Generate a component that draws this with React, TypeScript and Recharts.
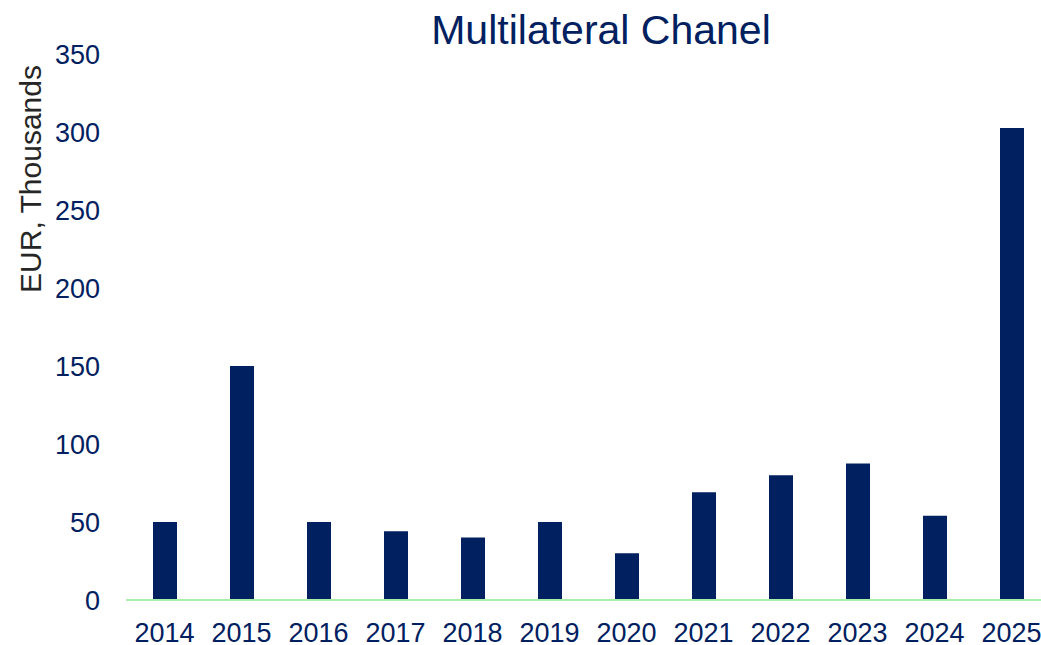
import React from "react";
import { BarChart, Bar, XAxis, YAxis, Label } from "recharts";

const years = ["2014", "2015", "2016", "2017", "2018", "2019", "2020", "2021", "2022", "2023", "2024", "2025"];
const amounts = [50, 150, 50, 44, 40, 50, 30, 69, 80, 87.5, 54, 302.5];
const yTicks = [0, 50, 100, 150, 200, 250, 300, 350];

const data = years.map((year, i) => ({ year, amount: amounts[i] }));

const NAVY = "#002060";
const FONT = "'Liberation Sans', Arial, sans-serif";

function YAxisTitle() {
  // rotated axis title, sits left of the tick labels
  return (
    <text
      x={30}
      y={179}
      transform="rotate(-90, 30, 179)"
      textAnchor="middle"
      dominantBaseline="central"
      fill="#262626"
      fontSize={30}
      fontFamily={FONT}
    >
      EUR, Thousands
    </text>
  );
}

export default function App() {
  return (
    <div
      style={{
        position: "absolute",
        left: 0,
        top: 0,
        width: 1041,
        height: 645,
        overflow: "hidden",
        background: "#fff",
        fontFamily: FONT,
      }}
    >
      <div
        style={{
          position: "absolute",
          left: 601,
          top: 10,
          transform: "translateX(-50%)",
          whiteSpace: "nowrap",
          fontSize: 41,
          lineHeight: 1,
          color: NAVY,
        }}
      >
        Multilateral Chanel
      </div>
      <BarChart
        width={1050}
        height={645}
        data={data}
        margin={{ top: 54, right: 0, bottom: 0, left: 0 }}
        barSize={24}
      >
        <XAxis
          dataKey="year"
          interval={0}
          height={45}
          tickLine={false}
          axisLine={{ stroke: "#a8f0a8", strokeWidth: 2 }}
          tick={{ fill: NAVY, fontSize: 27, fontFamily: FONT }}
          tickMargin={17}
        />
        <YAxis
          width={126}
          domain={[0, 350]}
          ticks={yTicks}
          interval={0}
          tickLine={false}
          axisLine={false}
          tick={{ fill: NAVY, fontSize: 27, fontFamily: FONT }}
          tickMargin={20}
        >
          <Label content={<YAxisTitle />} />
        </YAxis>
        <Bar dataKey="amount" fill={NAVY} isAnimationActive={false} />
      </BarChart>
    </div>
  );
}
